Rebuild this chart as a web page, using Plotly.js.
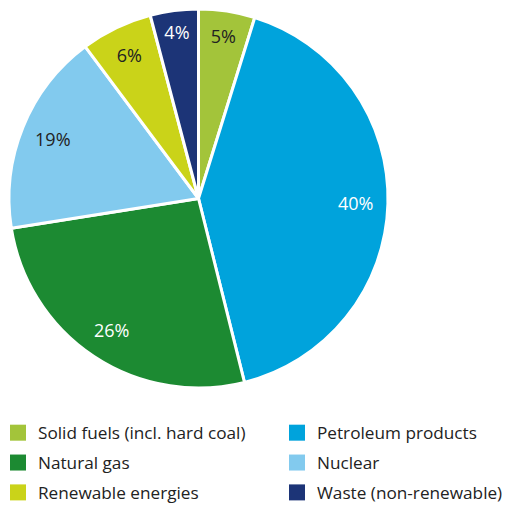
<!DOCTYPE html>
<html><head><meta charset="utf-8">
<script src="https://cdn.plot.ly/plotly-3.0.1.min.js"></script>
<style>html,body{margin:0;padding:0;background:#fff}#c{width:507px;height:505px}</style>
</head><body><div id="c"></div>
<script>
var labels = ["Solid fuels (incl. hard coal)", "Petroleum products", "Natural gas", "Nuclear", "Renewable energies", "Waste (non-renewable)"];
// slice sizes as drawn in the reference (share of total, %)
var values = [4.8, 41.3, 26.4, 17.3, 6.1, 4.1];
// percentages as printed on the slices
var pctLabels = ["5%", "40%", "26%", "19%", "6%", "4%"];
var colors = ["#a3c43a", "#00a3dc", "#1c8a32", "#82caee", "#cad319", "#1c3477"];
var textColors = ["#222222", "#ffffff", "#ffffff", "#222222", "#222222", "#ffffff"];
// legend column of each category (reading order in the reference legend)
var legendColumn = ["legend", "legend2", "legend", "legend2", "legend", "legend2"];

var dom = {x: [9/507, 388/507], y: [1 - 388/505, 1 - 9/505]};

var slices = {
  type: "pie",
  labels: labels,
  values: values,
  sort: false,
  direction: "clockwise",
  rotation: 0,
  marker: {colors: colors, line: {color: "#ffffff", width: 3}},
  textinfo: "none",
  hoverinfo: "none",
  showlegend: false,
  domain: dom
};

var textRing = {
  type: "pie",
  labels: labels,
  values: values,
  text: pctLabels,
  sort: false,
  direction: "clockwise",
  rotation: 0,
  hole: 0.66,
  showlegend: false,
  marker: {colors: labels.map(function(){return "rgba(0,0,0,0)";}), line: {width: 0}},
  texttemplate: "%{text}",
  textposition: "inside",
  insidetextorientation: "horizontal",
  insidetextfont: {family: "Open Sans", size: 18, color: textColors},
  hoverinfo: "none",
  domain: dom
};

// legend entries (no plotted points, only legend swatches)
var legendTraces = labels.map(function(lab, i){
  return {
    type: "scatter", mode: "markers", x: [null], y: [null],
    name: lab, legend: legendColumn[i], legendgroup: "g" + i,
    marker: {symbol: "square", size: 16, color: colors[i], line: {width: 0}},
    hoverinfo: "none", showlegend: true
  };
});

var legendCommon = {
  xref: "paper", yref: "paper", xanchor: "left", yanchor: "top",
  y: 1 - 415/505, traceorder: "grouped", tracegroupgap: 4.5,
  font: {family: "Open Sans", size: 17.2, color: "#222"},
  bgcolor: "rgba(0,0,0,0)", borderwidth: 0, itemclick: false
};

var layout = {
  width: 507, height: 505,
  margin: {l: 0, r: 0, t: 0, b: 0, autoexpand: false},
  paper_bgcolor: "#fff", plot_bgcolor: "rgba(0,0,0,0)",
  font: {family: "Open Sans", size: 17.2, color: "#222"},
  showlegend: true,
  xaxis: {visible: false}, yaxis: {visible: false},
  legend: Object.assign({}, legendCommon, {x: -2/507}),
  legend2: Object.assign({}, legendCommon, {x: 277/507})
};
Plotly.newPlot("c", [slices, textRing].concat(legendTraces), layout, {displayModeBar: false, staticPlot: true});
</script></body></html>
